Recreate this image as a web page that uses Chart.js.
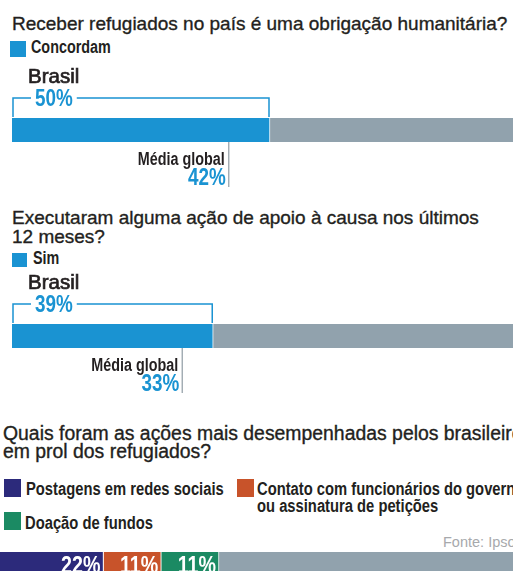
<!DOCTYPE html>
<html>
<head>
<meta charset="utf-8">
<script src="https://cdn.jsdelivr.net/npm/chart.js@4.4.1/dist/chart.umd.min.js"></script>
<style>
  body { margin: 0; width: 513px; height: 571px; overflow: hidden; position: relative; background: #fff; font-family: 'Liberation Sans', Arial, sans-serif; color: #231f20; }
  .t { position: absolute; white-space: nowrap; line-height: 1; }
  .heavy { -webkit-text-stroke: 0.35px #231f20; }
  .sq { position: absolute; }
  canvas { position: absolute; }
</style>
</head>
<body>
<script>
// dados
const questions = [
  'Receber refugiados no país é uma obrigação humanitária?',
  'Executaram alguma ação de apoio à causa nos últimos|12 meses?',
  'Quais foram as ações mais desempenhadas pelos brasileiros|em prol dos refugiados?'
];
const answerLabels = ['Concordam', 'Sim'];
const brasilValues = [50, 39];
const globalValues = [42, 33];
const actionLabels = ['Postagens em redes sociais', 'Contato com funcionários do governo|ou assinatura de petições', 'Doação de fundos'];
const actionValues = [22, 11, 11];
const source = 'Fonte: Ipsos';

const ink = '#231f20';
const blue = '#1a93d2';
const grey = '#91a2ad';
const actionColors = ['#2c2a7b', '#c8532a', '#1b8a63'];
const FONT = '"Liberation Sans", Arial, sans-serif';
const NARROW = 0.82; // fonte condensada simulada

// texto posicionado pela linha de base
function label(text, x, baseline, size, weight, color, align, sx, cls) {
  const d = document.createElement('div');
  d.className = 't' + (cls ? ' ' + cls : '');
  d.textContent = text;
  d.style.fontSize = size + 'px';
  d.style.fontWeight = weight;
  d.style.color = color || ink;
  d.style.top = (baseline - 0.847 * size) + 'px';
  if (align === 'right') { d.style.right = (513 - x) + 'px'; d.style.transformOrigin = 'right'; }
  else { d.style.left = x + 'px'; d.style.transformOrigin = 'left'; }
  if (sx) d.style.transform = 'scaleX(' + sx + ')';
  document.body.appendChild(d);
}

function title(text, x, baseline, size) {
  label(text, x, baseline, size || 19, 'normal', ink, 'left', null, 'heavy');
}

function square(x, y, w, h, color) {
  const s = document.createElement('div');
  s.className = 'sq';
  Object.assign(s.style, { left: x + 'px', top: y + 'px', width: w + 'px', height: h + 'px', background: color });
  document.body.appendChild(s);
}

function narrowText(ctx, txt, x, y, align) {
  ctx.save();
  ctx.translate(x, y);
  ctx.scale(NARROW, 1);
  ctx.textAlign = align || 'left';
  ctx.fillText(txt, 0, 0);
  ctx.restore();
}

function stackedBar(left, top, width, height, pad, values, colors, plugin) {
  const c = document.createElement('canvas');
  c.width = width; c.height = height;
  c.style.left = left + 'px'; c.style.top = top + 'px';
  c.style.width = width + 'px'; c.style.height = height + 'px';
  document.body.appendChild(c);
  new Chart(c, {
    type: 'bar',
    data: {
      labels: [''],
      datasets: values.map((v, i) => ({
        data: [v],
        backgroundColor: colors[i],
        borderColor: '#fff',
        borderWidth: { top: 0, bottom: 0, left: 0, right: i < values.length - 1 ? 1 : 0 },
        borderSkipped: false,
        barPercentage: 1,
        categoryPercentage: 1
      }))
    },
    options: {
      indexAxis: 'y',
      responsive: false,
      animation: false,
      layout: { padding: pad },
      plugins: { legend: { display: false }, tooltip: { enabled: false } },
      scales: {
        x: { stacked: true, display: false, min: 0, max: 100 },
        y: { stacked: true, display: false }
      }
    },
    plugins: plugin ? [plugin] : []
  });
}

// colchete "Brasil" e marca da média global
function brasilMarks(brasil, global) {
  return {
    id: 'brasilMarks',
    afterDatasetsDraw(chart) {
      const { ctx, chartArea, scales: { x } } = chart;
      const x0 = x.getPixelForValue(0);
      const xb = x.getPixelForValue(brasil);
      const xg = x.getPixelForValue(global);
      const top = chartArea.top, bot = chartArea.bottom;
      ctx.save();
      ctx.fillStyle = ink;
      ctx.strokeStyle = ink;
      ctx.lineWidth = 0.7;
      ctx.font = '20.5px ' + FONT;
      ctx.fillText('Brasil', x0 + 16, top - 35);
      ctx.strokeText('Brasil', x0 + 16, top - 35);

      const by = top - 20;
      ctx.font = 'bold 23px ' + FONT;
      const txt = brasil + '%';
      const tw = ctx.measureText(txt).width * NARROW;
      const tx = x0 + 23;
      ctx.strokeStyle = blue;
      ctx.lineWidth = 1.5;
      ctx.beginPath();
      ctx.moveTo(x0 + 1, top - 1); ctx.lineTo(x0 + 1, by); ctx.lineTo(tx - 4, by);
      ctx.moveTo(tx + tw + 4, by); ctx.lineTo(xb - 1, by); ctx.lineTo(xb - 1, top - 1);
      ctx.stroke();
      ctx.fillStyle = blue;
      narrowText(ctx, txt, tx, by + 8);

      ctx.strokeStyle = '#a3adb4';
      ctx.beginPath();
      ctx.moveTo(xg, bot); ctx.lineTo(xg, bot + 45);
      ctx.stroke();
      ctx.fillStyle = ink;
      ctx.font = 'bold 17.5px ' + FONT;
      narrowText(ctx, 'Média global', xg - 4, bot + 23, 'right');
      ctx.fillStyle = blue;
      ctx.font = 'bold 23px ' + FONT;
      narrowText(ctx, global + '%', xg - 3, bot + 43, 'right');
      ctx.restore();
    }
  };
}

const segmentLabels = {
  id: 'segmentLabels',
  afterDatasetsDraw(chart) {
    const { ctx, chartArea } = chart;
    ctx.save();
    ctx.fillStyle = '#fff';
    ctx.font = 'bold 24px ' + FONT;
    actionValues.forEach((v, i) => {
      const bar = chart.getDatasetMeta(i).data[0];
      narrowText(ctx, v + '%', bar.x - 3, chartArea.top + 21, 'right');
    });
    ctx.restore();
  }
};

// bloco 1
title(questions[0], 12, 30);
square(10, 41, 16, 16, blue);
label(answerLabels[0], 31, 54, 17.5, 'bold', ink, 'left', NARROW);
stackedBar(0, 60, 540, 130, { left: 12, right: 12, top: 58, bottom: 48 },
  [brasilValues[0], 100 - brasilValues[0]], [blue, grey], brasilMarks(brasilValues[0], globalValues[0]));

// bloco 2
const q2 = questions[1].split('|');
title(q2[0], 12, 224);
title(q2[1], 12, 243);
square(12, 253, 15, 14, blue);
label(answerLabels[1], 33, 265, 17.5, 'bold', ink, 'left', NARROW);
stackedBar(0, 266, 540, 130, { left: 12, right: 12, top: 58, bottom: 48 },
  [brasilValues[1], 100 - brasilValues[1]], [blue, grey], brasilMarks(brasilValues[1], globalValues[1]));

// bloco 3
const q3 = questions[2].split('|');
title(q3[0], 3, 440, 19.4);
title(q3[1], 3, 458, 19.4);
square(4, 479, 17, 18, actionColors[0]);
label(actionLabels[0], 26, 495, 18, 'bold', ink, 'left', NARROW);
square(237, 479, 17, 18, actionColors[1]);
const a2 = actionLabels[1].split('|');
label(a2[0], 257, 495, 18, 'bold', ink, 'left', NARROW);
label(a2[1], 257, 512, 18, 'bold', ink, 'left', NARROW);
square(4, 512, 17, 18, actionColors[2]);
label(actionLabels[2], 25, 529, 18, 'bold', ink, 'left', NARROW);
label(source, 443, 547, 14.5, 'normal', '#a7a9ac');

const rest = 100 - actionValues.reduce((a, b) => a + b, 0);
stackedBar(-12, 552, 540, 24, { left: 0, right: 15, top: 0, bottom: 0 },
  [...actionValues, rest], [...actionColors, grey], segmentLabels);
</script>
</body>
</html>
